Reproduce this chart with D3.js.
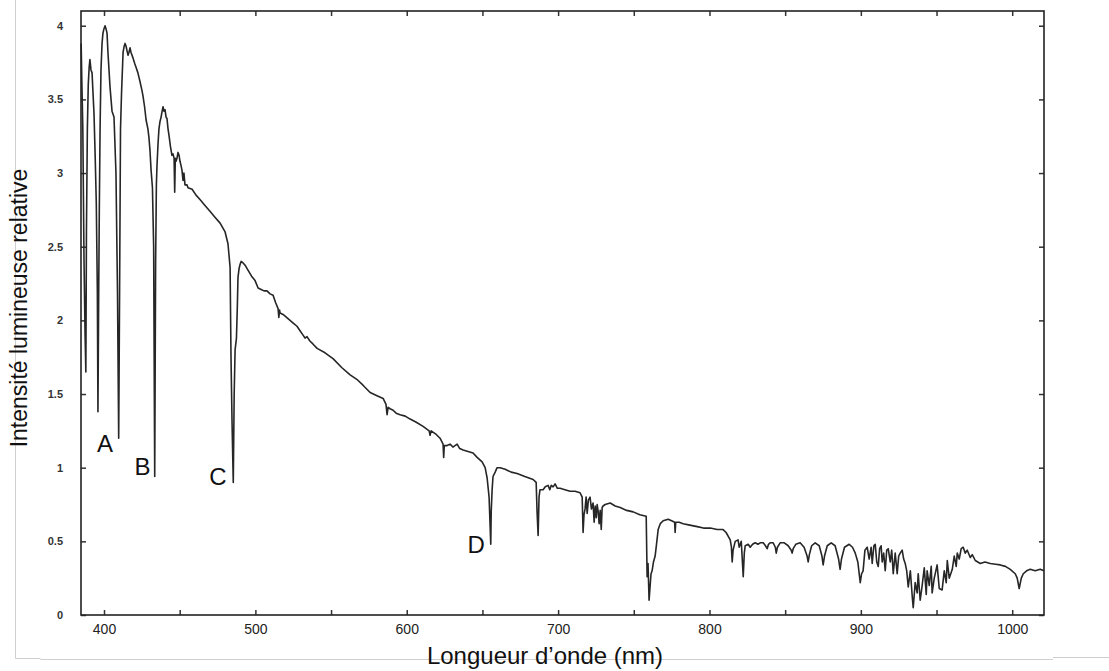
<!DOCTYPE html>
<html><head><meta charset="utf-8">
<script src="https://cdn.jsdelivr.net/npm/d3@7"></script>
<style>body{margin:0;background:#fff} svg{display:block}</style>
</head><body>
<svg id="c" width="1109" height="671"></svg>
<script>
// Spectrum: wavelength (nm) and relative intensity
const wavelength = [384.9,385.4,386.0,386.8,387.5,388.0,388.4,389.0,389.6,390.2,390.7,391.4,392.1,392.7,393.4,394.2,394.9,395.6,396.0,396.5,396.9,397.4,398.0,398.7,399.3,400.0,400.7,401.3,402.0,402.6,403.3,404.0,405.3,406.6,407.9,408.9,409.7,410.3,410.9,411.6,412.6,413.3,413.9,414.6,415.2,415.9,416.5,417.2,417.8,419.2,420.4,421.1,422.4,423.8,425.1,425.8,426.8,427.8,429.0,429.7,430.4,431.1,432.0,432.8,433.5,434.1,434.6,435.0,435.7,436.3,437.0,437.7,438.4,439.0,439.6,440.3,441.0,441.6,442.3,443.0,443.9,444.9,445.6,446.3,446.7,447.1,447.6,448.2,448.9,449.6,450.2,450.9,451.5,452.2,452.8,453.5,454.8,455.5,458.2,460.8,463.4,466.7,470.0,473.3,476.7,480.0,481.9,483.3,483.9,484.6,485.4,486.0,486.6,487.5,488.1,488.5,489.2,489.9,490.6,491.9,493.5,495.2,497.5,499.8,501.8,503.8,505.7,507.7,509.7,511.7,513.4,515.0,515.5,516.0,516.3,518.3,520.6,522.9,525.2,527.5,529.5,531.5,532.8,534.1,536.0,538.0,540.8,546.0,551.3,557.0,562.6,567.0,571.1,575.8,580.0,584.4,586.3,587.0,587.7,589.0,591.0,593.0,595.6,599.0,602.2,606.0,610.8,614.8,615.4,616.1,619.0,622.0,624.0,624.4,624.8,626.7,628.6,630.5,633.3,635.0,637.2,640.5,643.8,646.5,649.8,651.8,653.1,654.4,655.1,655.5,655.8,656.4,657.0,658.4,659.7,661.7,665.0,669.0,672.9,678.0,683.5,685.5,686.1,686.8,687.4,688.0,690.1,691.5,693.4,694.5,695.5,696.7,698.0,699.5,701.3,704.5,707.9,711.2,714.5,715.9,716.5,717.1,717.8,718.5,719.2,720.0,721.1,722.0,723.1,723.8,724.5,725.2,725.8,726.5,727.1,727.8,728.5,729.1,729.7,731.1,734.4,737.7,741.0,745.3,749.6,754.0,758.2,758.8,759.4,760.1,760.8,761.4,762.1,763.0,764.1,765.0,766.1,767.5,769.4,772.7,775.0,777.0,777.3,777.7,780.0,782.6,787.0,791.9,796.0,800.5,805.1,809.0,811.0,813.7,814.5,815.0,815.6,817.0,818.9,819.6,820.3,821.0,822.3,823.0,823.6,825.6,826.9,828.5,830.2,832.0,833.5,835.5,837.0,838.1,839.0,840.1,842.1,843.5,844.1,844.9,846.7,849.4,852.0,854.0,854.6,855.3,857.0,859.9,862.5,864.5,865.2,866.0,867.5,869.8,872.5,874.3,875.1,876.0,877.8,880.4,883.0,885.3,886.3,887.2,889.2,892.3,894.5,896.3,898.0,899.6,900.5,901.5,902.7,904.2,905.5,906.8,907.5,908.6,909.5,910.5,911.5,912.4,913.4,914.1,915.1,916.1,917.1,918.1,919.4,920.4,921.4,922.7,924.0,925.0,926.0,927.3,928.3,929.3,930.3,931.3,932.7,934.0,934.6,935.9,937.2,937.9,939.2,940.5,941.9,943.2,943.8,945.2,946.5,947.1,948.5,950.4,951.8,953.7,955.1,956.4,957.1,958.4,960.4,961.7,963.0,963.7,965.0,966.3,967.6,969.0,970.3,972.3,973.6,975.6,978.9,982.0,985.5,989.0,992.1,995.5,998.7,1002.0,1003.3,1004.6,1006.0,1007.3,1009.5,1011.9,1015.2,1018.5,1021.0];
const intensity = [3.88,3.6,3.3,2.4,1.9,1.65,2.6,3.3,3.6,3.72,3.77,3.7,3.68,3.55,3.4,3.1,2.8,2.2,1.38,2.2,2.75,3.3,3.7,3.88,3.95,3.98,4.0,3.98,3.95,3.82,3.7,3.58,3.42,3.38,3.0,2.2,1.2,2.2,3.3,3.55,3.82,3.86,3.88,3.86,3.83,3.8,3.82,3.85,3.82,3.78,3.74,3.72,3.68,3.62,3.56,3.52,3.45,3.36,3.3,3.24,3.15,3.02,2.9,2.5,0.94,2.4,2.92,3.05,3.2,3.3,3.35,3.38,3.42,3.45,3.42,3.43,3.38,3.37,3.3,3.25,3.18,3.12,3.13,3.1,2.87,3.1,3.08,3.1,3.14,3.12,3.08,3.05,3.02,2.95,3.0,2.92,2.92,2.9,2.89,2.85,2.82,2.78,2.74,2.7,2.66,2.6,2.52,2.36,1.75,1.3,0.9,1.5,1.8,1.88,2.1,2.29,2.35,2.38,2.4,2.39,2.37,2.34,2.3,2.27,2.22,2.21,2.2,2.2,2.18,2.17,2.12,2.08,2.02,2.07,2.05,2.04,2.02,2.0,1.98,1.96,1.93,1.9,1.88,1.89,1.86,1.84,1.81,1.78,1.74,1.68,1.63,1.6,1.56,1.51,1.49,1.47,1.43,1.36,1.41,1.4,1.39,1.37,1.36,1.35,1.33,1.31,1.28,1.25,1.22,1.25,1.23,1.2,1.16,1.07,1.15,1.15,1.16,1.14,1.16,1.13,1.12,1.11,1.1,1.07,1.04,1.0,0.93,0.8,0.6,0.48,0.7,0.85,0.94,0.97,1.0,1.0,0.99,0.97,0.96,0.94,0.92,0.9,0.7,0.54,0.8,0.85,0.85,0.87,0.88,0.85,0.88,0.87,0.89,0.86,0.86,0.85,0.84,0.84,0.83,0.8,0.56,0.68,0.72,0.8,0.69,0.78,0.8,0.72,0.76,0.63,0.74,0.66,0.75,0.7,0.62,0.71,0.58,0.73,0.74,0.75,0.76,0.74,0.73,0.71,0.7,0.68,0.67,0.26,0.35,0.1,0.2,0.28,0.3,0.36,0.4,0.48,0.58,0.62,0.64,0.65,0.64,0.63,0.56,0.63,0.63,0.62,0.61,0.6,0.59,0.59,0.58,0.58,0.56,0.51,0.46,0.36,0.44,0.5,0.51,0.46,0.48,0.5,0.26,0.42,0.47,0.48,0.46,0.48,0.49,0.48,0.49,0.49,0.47,0.45,0.48,0.49,0.49,0.46,0.42,0.46,0.49,0.49,0.47,0.44,0.42,0.45,0.48,0.49,0.46,0.4,0.36,0.41,0.47,0.49,0.47,0.4,0.34,0.4,0.47,0.49,0.47,0.38,0.31,0.38,0.46,0.48,0.46,0.42,0.36,0.22,0.28,0.3,0.44,0.46,0.38,0.46,0.35,0.47,0.48,0.36,0.33,0.45,0.47,0.36,0.42,0.3,0.44,0.45,0.36,0.44,0.28,0.42,0.28,0.4,0.42,0.44,0.38,0.35,0.3,0.19,0.3,0.12,0.05,0.22,0.15,0.28,0.1,0.2,0.32,0.14,0.3,0.2,0.33,0.15,0.25,0.34,0.18,0.17,0.3,0.22,0.37,0.25,0.31,0.4,0.33,0.42,0.38,0.45,0.46,0.42,0.44,0.39,0.41,0.37,0.35,0.36,0.35,0.345,0.34,0.33,0.31,0.28,0.25,0.18,0.25,0.28,0.3,0.31,0.3,0.31,0.3];

const xTicks = [400,450,500,550,600,650,700,750,800,850,900,950,1000];
const xTickLabels = [400,500,600,700,800,900,1000];
const yTicks = [0,0.5,1,1.5,2,2.5,3,3.5,4];
const yTickLabels = ["0","0.5","1","1.5","2","2.5","3","3.5","4"];

const lineNames = ["A","B","C","D"];
const lineNameNm = [400.7,425.4,475.3,645.8];
const lineNameI = [1.107,0.95,0.883,0.42];

const xTitle = "Longueur d’onde (nm)";
const yTitle = "Intensité lumineuse relative";

const svg = d3.select("#c");
const L = 81, R = 1044, T = 11, B = 615;
const x = d3.scaleLinear().domain([384.8, 1021]).range([L, R]);
const y = d3.scaleLinear().domain([0, 4.1]).range([B, T]);

// faint frame lines of the original scan
svg.append("path").attr("d", "M15.5,0V658.5H40.5M40.5,659.5H1053M1053,657.5H1109")
  .attr("fill","none").attr("stroke","#cfcfcf").attr("stroke-width",1);

const fontTick = "'Liberation Sans', Arial, sans-serif";

// bottom axis
const gB = svg.append("g").attr("transform",`translate(0,${B})`)
  .call(d3.axisBottom(x).tickValues(xTicks).tickSizeInner(-5).tickSizeOuter(0).tickPadding(9)
    .tickFormat(d => xTickLabels.includes(d) ? String(d) : ""));
// top axis
const gT = svg.append("g").attr("transform",`translate(0,${T})`)
  .call(d3.axisTop(x).tickValues(xTicks).tickSizeInner(-5).tickSizeOuter(0).tickFormat(""));
// left axis
const gL = svg.append("g").attr("transform",`translate(${L},0)`)
  .call(d3.axisLeft(y).tickValues(yTicks).tickSizeInner(-5).tickSizeOuter(0).tickPadding(18)
    .tickFormat((d,i) => yTickLabels[i]));
// right axis
const gR = svg.append("g").attr("transform",`translate(${R},0)`)
  .call(d3.axisRight(y).tickValues(yTicks).tickSizeInner(-5).tickSizeOuter(0).tickFormat(""));

[gB,gT,gL,gR].forEach(g => {
  g.select(".domain").remove();
  g.selectAll(".tick line").attr("stroke","#333").attr("stroke-width",1.5);
});
gB.selectAll("text").attr("font-family",fontTick).attr("font-size",14).attr("fill","#222");
gL.selectAll("text").attr("font-family",fontTick).attr("font-size",11).attr("font-weight","bold").attr("fill","#333");

// spectrum line
const pts = wavelength.map((w,i) => [w, intensity[i]]);
svg.append("path").datum(pts)
  .attr("fill","none").attr("stroke","#262626").attr("stroke-width",1.6).attr("stroke-linejoin","round")
  .attr("d", d3.line().x(d => x(d[0])).y(d => y(d[1])));

// frame
svg.append("rect").attr("x",L).attr("y",T).attr("width",R-L).attr("height",B-T)
  .attr("fill","none").attr("stroke","#222").attr("stroke-width",1.6);

// line labels
svg.append("g").selectAll("text").data(lineNames).join("text")
  .attr("x",(d,i) => x(lineNameNm[i])).attr("y",(d,i) => y(lineNameI[i]))
  .attr("text-anchor","middle").attr("font-family",fontTick).attr("font-size",24).attr("fill","#111")
  .text(d => d);

// axis titles
svg.append("text").attr("x",545).attr("y",664).attr("text-anchor","middle")
  .attr("font-family",fontTick).attr("font-size",24).attr("fill","#111").text(xTitle);
svg.append("text").attr("transform","translate(27,308) rotate(-90)").attr("text-anchor","middle")
  .attr("font-family",fontTick).attr("font-size",23).attr("fill","#111").text(yTitle);
</script>
</body></html>
